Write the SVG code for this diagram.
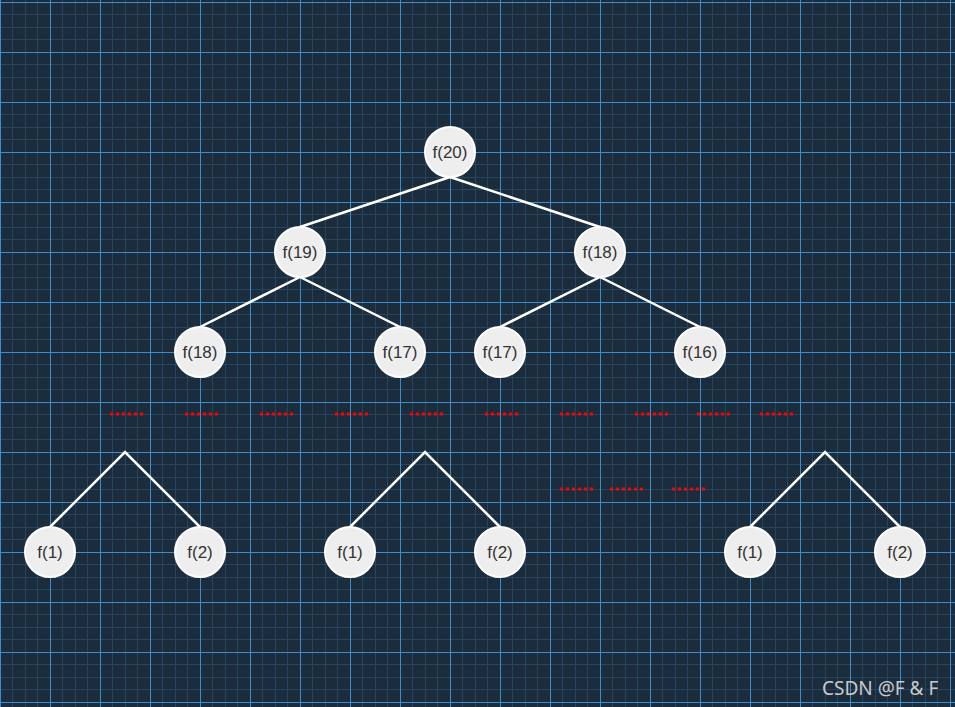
<svg xmlns="http://www.w3.org/2000/svg" width="955" height="707" viewBox="0 0 955 707">
<style>
.node circle{fill:#eeeeee;stroke:#ffffff;stroke-width:2}
.node text{font-family:"Liberation Sans",Arial,sans-serif;font-size:17px;fill:#333333;text-anchor:middle;dominant-baseline:central}
.edges line,.edges polyline{stroke:#ffffff;stroke-width:2.5;stroke-linecap:round;fill:none}
.dots line{stroke:#ff0000;stroke-width:3;stroke-dasharray:3 3}
</style>
<defs>
<pattern id="grid" x="0" y="2" width="50" height="50" patternUnits="userSpaceOnUse">
<rect width="50" height="50" fill="#1b2c3d"/>
<g fill="#284560" shape-rendering="crispEdges">
<rect x="12" y="0" width="1" height="50"/>
<rect x="25" y="0" width="1" height="50"/>
<rect x="37" y="0" width="1" height="50"/>
<rect x="0" y="12" width="50" height="1"/>
<rect x="0" y="25" width="50" height="1"/>
<rect x="0" y="37" width="50" height="1"/>
</g>
<g fill="#3d8ccc" shape-rendering="crispEdges">
<rect x="0" y="0" width="1" height="50"/>
<rect x="0" y="0" width="50" height="1"/>
</g>
</pattern>
</defs>
<rect width="955" height="707" fill="url(#grid)"/>
<g class="edges">
<line x1="450" y1="177" x2="300" y2="227"/>
<line x1="450" y1="177" x2="600" y2="227"/>
<line x1="300" y1="277" x2="200" y2="327"/>
<line x1="300" y1="277" x2="400" y2="327"/>
<line x1="600" y1="277" x2="500" y2="327"/>
<line x1="600" y1="277" x2="700" y2="327"/>
<polyline points="50,527 125,452 200,527"/>
<polyline points="350,527 425,452 500,527"/>
<polyline points="750,527 825,452 900,527"/>
</g>
<g class="dots">
<line x1="110" y1="414" x2="143" y2="414"/>
<line x1="185" y1="414" x2="218" y2="414"/>
<line x1="260" y1="414" x2="293" y2="414"/>
<line x1="335" y1="414" x2="368" y2="414"/>
<line x1="410" y1="414" x2="443" y2="414"/>
<line x1="485" y1="414" x2="518" y2="414"/>
<line x1="560" y1="414" x2="593" y2="414"/>
<line x1="635" y1="414" x2="668" y2="414"/>
<line x1="697" y1="414" x2="730" y2="414"/>
<line x1="760" y1="414" x2="793" y2="414"/>
<line x1="560" y1="489" x2="593" y2="489"/>
<line x1="610" y1="489" x2="643" y2="489"/>
<line x1="672" y1="489" x2="705" y2="489"/>
</g>
<g id="n20" class="node"><circle cx="450" cy="152" r="25"/><text x="450" y="152">f(20)</text></g>
<g id="n19" class="node"><circle cx="300" cy="252" r="25"/><text x="300" y="252">f(19)</text></g>
<g id="n18a" class="node"><circle cx="600" cy="252" r="25"/><text x="600" y="252">f(18)</text></g>
<g id="n18b" class="node"><circle cx="200" cy="352" r="25"/><text x="200" y="352">f(18)</text></g>
<g id="n17a" class="node"><circle cx="400" cy="352" r="25"/><text x="400" y="352">f(17)</text></g>
<g id="n17b" class="node"><circle cx="500" cy="352" r="25"/><text x="500" y="352">f(17)</text></g>
<g id="n16" class="node"><circle cx="700" cy="352" r="25"/><text x="700" y="352">f(16)</text></g>
<g id="l1a" class="node"><circle cx="50" cy="552" r="25"/><text x="50" y="552">f(1)</text></g>
<g id="l2a" class="node"><circle cx="200" cy="552" r="25"/><text x="200" y="552">f(2)</text></g>
<g id="l1b" class="node"><circle cx="350" cy="552" r="25"/><text x="350" y="552">f(1)</text></g>
<g id="l2b" class="node"><circle cx="500" cy="552" r="25"/><text x="500" y="552">f(2)</text></g>
<g id="l1c" class="node"><circle cx="750" cy="552" r="25"/><text x="750" y="552">f(1)</text></g>
<g id="l2c" class="node"><circle cx="900" cy="552" r="25"/><text x="900" y="552">f(2)</text></g>
<text x="822" y="695" font-family="'Noto Sans','Open Sans',sans-serif" font-size="19" fill="#c9c9c9">CSDN @F &amp; F</text>
</svg>
